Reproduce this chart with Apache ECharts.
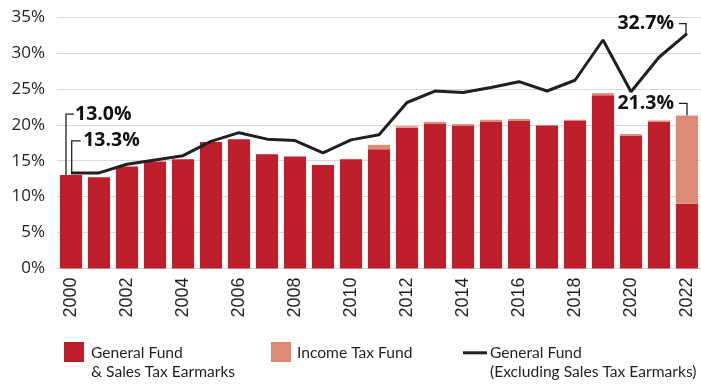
<!DOCTYPE html>
<html>
<head>
<meta charset="utf-8">
<script src="https://cdn.jsdelivr.net/npm/echarts@6/dist/echarts.min.js"></script>
<style>
html,body{margin:0;padding:0;background:#fff;}
#chart{width:701px;height:386px;}
</style>
</head>
<body>
<div id="chart"></div>
<script>
const years = ['2000','2001','2002','2003','2004','2005','2006','2007','2008','2009','2010','2011','2012','2013','2014','2015','2016','2017','2018','2019','2020','2021','2022'];
const generalFundSales = [13.0,12.7,14.2,14.9,15.2,17.6,18.0,15.9,15.6,14.4,15.2,16.6,19.6,20.1,19.9,20.4,20.6,19.9,20.6,24.1,18.5,20.4,9.0];
const incomeTaxFund = [0,0,0,0,0,0,0,0,0,0,0,0.6,0.2,0.3,0.2,0.3,0.2,0,0.1,0.3,0.2,0.2,12.3];
const generalFundExcl = [13.3,13.3,14.5,15.1,15.7,17.7,18.9,18.0,17.8,16.1,17.9,18.6,23.1,24.7,24.5,25.2,26.0,24.7,26.2,31.8,24.6,29.4,32.7];
const yTicks = [0,5,10,15,20,25,30,35];
const seriesNames = ['General Fund\n& Sales Tax Earmarks','Income Tax Fund','General Fund\n(Excluding Sales Tax Earmarks)'];

const RED = '#bf1e2d', ORANGE = '#db8b76', LINE = '#231f20', TXT = '#231f20';
const chart = echarts.init(document.getElementById('chart'), null, {renderer:'canvas'});

const option = {
  animation:false,
  grid:{left:57,right:0,top:17,bottom:117.5,containLabel:false},
  xAxis:{type:'category',data:years,
    axisLine:{show:true,lineStyle:{color:'#d9d9d9',width:1}},
    axisTick:{show:false},
    axisLabel:{rotate:90,interval:1,margin:9,fontFamily:'Liberation Sans',fontSize:18,color:TXT}},
  yAxis:{type:'value',min:yTicks[0],max:yTicks[yTicks.length-1],interval:5,
    axisLine:{show:false},axisTick:{show:false},
    splitLine:{lineStyle:{color:'#d9d9d9',width:1}},
    axisLabel:{formatter:'{value}%',margin:12,fontFamily:'Open Sans',fontSize:17,color:TXT}},
  series:[
    {name:seriesNames[0],type:'bar',stack:'t',data:generalFundSales,barCategoryGap:'21%',itemStyle:{color:RED}},
    {name:seriesNames[1],type:'bar',stack:'t',data:incomeTaxFund,barCategoryGap:'21%',itemStyle:{color:ORANGE}},
    {name:seriesNames[2],type:'line',data:generalFundExcl,showSymbol:false,symbol:'none',z:5,
      lineStyle:{color:LINE,width:3},itemStyle:{color:LINE}}
  ]
};
chart.setOption(option);

const graphics = [];
// legend (drawn as graphic for exact two-line layout)
const legendItems = [
  {name:seriesNames[0], color:RED, x:64, y:342, w:20, h:20, tx:91},
  {name:seriesNames[1], color:ORANGE, x:271, y:342, w:20, h:20, tx:297},
  {name:seriesNames[2], color:LINE, x:463, y:351.3, w:24, h:3, tx:490}
];
legendItems.forEach(it=>{
  graphics.push({type:'rect',shape:{x:it.x,y:it.y,width:it.w,height:it.h},style:{fill:it.color},z:10});
  graphics.push({type:'text',x:it.tx,y:343,style:{text:it.name,fontFamily:'Lato',fontSize:15.6,lineHeight:19,
    fill:TXT,textAlign:'left',textVerticalAlign:'top'},z:10});
});

// annotations
const last = years.length-1;
const barTotal = i => +(generalFundSales[i]+incomeTaxFund[i]).toFixed(1);
const anns = [
  {idx:0, val:barTotal(0), side:'left', dx:-5, up:61, arm:8, gap:1},
  {idx:0, val:generalFundExcl[0], side:'left', dx:0.7, up:32, arm:9, gap:2.5},
  {idx:last, val:generalFundExcl[last], side:'right', dx:-1, up:10, arm:7, gap:5},
  {idx:last, val:barTotal(last), side:'right', dx:0, up:12, arm:8, gap:5}
];
anns.forEach(a=>{
  const p = chart.convertToPixel({gridIndex:0},[a.idx,a.val]);
  const x = p[0]+a.dx, y0 = p[1], y1 = p[1]-a.up;
  const xe = a.side==='left' ? x+a.arm : x-a.arm;
  graphics.push({type:'polyline',shape:{points:[[x,y0],[x,y1],[xe,y1]]},
    style:{stroke:LINE,lineWidth:1.3,fill:null},z:10});
  graphics.push({type:'text',x: a.side==='left'? xe+a.gap : xe-a.gap, y:y1,
    style:{text:a.val.toFixed(1)+'%',fontFamily:'Open Sans',fontWeight:'bold',fontSize:19.5,fill:'#111',
      textAlign:a.side==='left'?'left':'right',textVerticalAlign:'middle'},z:10});
});
chart.setOption({graphic:graphics});
</script>
</body>
</html>
